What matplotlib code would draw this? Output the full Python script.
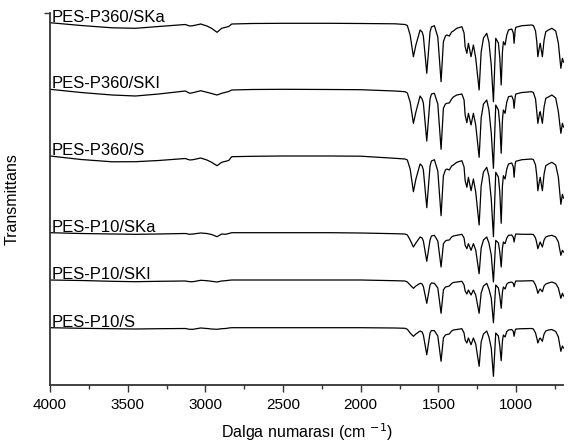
import matplotlib
matplotlib.use("Agg")
import matplotlib.pyplot as plt
from matplotlib.ticker import FixedLocator

plt.rcParams['font.family'] = ['Liberation Sans', 'DejaVu Sans']

wavenumber = [4000, 3800, 3600, 3450, 3300, 3130, 3100, 3080, 3030, 2990, 2960, 2925, 2895, 2870, 2850,
              2830, 2700, 2500, 2200, 2000, 1780, 1715, 1700, 1682, 1661, 1645, 1618, 1605, 1597, 1575,
              1554, 1545, 1526, 1504, 1483, 1468, 1455, 1446, 1430, 1415, 1404, 1382, 1349, 1335, 1328,
              1317, 1307, 1290, 1275, 1260, 1238, 1225, 1210, 1189, 1175, 1160, 1146, 1131, 1114, 1105,
              1096, 1088, 1082, 1071, 1060, 1049, 1028, 1018, 1013, 1006, 1002, 963, 900, 889, 875,
              867, 860, 850, 845, 831, 820, 809, 792, 770, 745, 728, 712, 702, 695]

labels = ["PES-P360/SKa", "PES-P360/SKI", "PES-P360/S", "PES-P10/SKa", "PES-P10/SKI", "PES-P10/S"]

p360_ska = [362.3, 359.5, 357.2, 356.7, 358.5, 360.5, 359, 359.3, 361, 359, 356.7, 352.7, 356.7, 357.7, 358.5,
            361, 361.5, 361.7, 361.7, 361.5, 361.2, 360.5, 359.5, 350, 328.3, 340, 355, 353, 349, 311.7,
            353, 358, 359.3, 348, 303.3, 343.3, 349, 350, 349, 353, 354, 356.7, 358.3, 352, 338.3,
            331.7, 341.7, 328.3, 340, 327, 295, 333, 347, 351.7, 343, 320, 283.3, 346.7, 342, 327,
            300, 333, 343.3, 340, 350, 355, 356, 352, 341.7, 355, 357.7, 359.3, 360, 359.5, 354,
            343.3, 328.3, 338, 341.7, 328.3, 345, 353.3, 355, 356.7, 354, 341.7, 316.7, 326.7, 323]

p360_ski = [295.7, 292.5, 290, 289, 291, 294, 291.7, 292.3, 294.3, 292.7, 291.5, 290, 291.7, 292.7, 293.5,
            295, 295.5, 295.7, 295.5, 295.3, 294, 293.3, 292, 283, 261.7, 273, 289, 286, 282, 244,
            286, 291, 291.7, 281, 235.7, 276.7, 281, 281.7, 282, 286, 288, 290, 291, 285, 270,
            262.3, 271.7, 260, 271.7, 260, 227.7, 267, 281, 285, 275, 252, 216.7, 280, 275, 260,
            231.7, 265, 275, 271.7, 283, 288.3, 289, 285, 276.7, 288, 291, 292.5, 293.3, 292.5, 286,
            273.3, 261.7, 271, 273.3, 261.7, 278, 286.7, 288, 290, 287, 273.3, 251.7, 261.7, 258]

p360_s = [229, 225.5, 223.2, 223.3, 224.5, 226.5, 225, 225.3, 227, 225, 222.7, 219.3, 222.7, 223.7, 224.5,
          228.3, 228.7, 229, 229, 228.8, 226.7, 226, 225, 216, 193.3, 206, 221, 219, 215, 177.3,
          219, 224, 225.3, 214, 169.3, 209.3, 215, 216, 215, 219, 220, 222.7, 224.3, 218, 204.3,
          197.7, 207.7, 194.3, 206, 193, 160, 199, 213, 217.7, 209, 186, 148.3, 212.7, 208, 193,
          161.7, 199, 209.3, 206, 216, 221, 222, 218, 207.7, 221, 223.7, 225.3, 226, 225.5, 220,
          209.3, 194.3, 204, 207.7, 194.3, 211, 219.3, 221, 222.7, 220, 207.7, 180.7, 190.7, 187]

p10_ska = [152.3, 151.5, 151, 150.7, 151, 151.5, 150.7, 151, 152, 151.5, 150.5, 148.3, 151, 150.7, 151.5,
           152.3, 152.3, 152.3, 152.3, 152, 151.3, 151, 150, 145, 138, 142, 148, 147, 144, 123.7,
           145, 149, 149.7, 144, 118, 141.3, 144, 144.7, 145, 148, 149, 149.7, 150.7, 147, 139.7,
           136.3, 141.3, 134.7, 141.3, 135, 111.3, 137, 145, 148, 142, 130, 103, 144.7, 142, 133,
           118, 137, 143, 141.3, 147, 149.7, 150, 147.5, 143, 149, 151, 150.7, 150.7, 150.5, 147,
           142, 136.3, 141, 143, 138, 145, 148, 149, 149.7, 148, 143, 129.7, 134.7, 133]

p10_ski = [105, 104.5, 103.7, 103.3, 103.7, 104, 103.3, 103.3, 104.7, 104.3, 103.7, 103, 104, 104.3, 104.7,
           105, 105, 105, 105, 105, 104.3, 104, 103, 100, 96.7, 99, 101.7, 101, 98.5, 81.7,
           100, 102, 101.7, 97, 71.7, 95, 98, 98.3, 99, 101.5, 102.5, 103, 103.7, 100, 94,
           91, 95, 90, 95, 90, 71.7, 92, 99, 101.7, 96, 87, 62.3, 100, 97, 89,
           76.7, 93, 98, 96, 101, 102.3, 103, 101.5, 98.3, 102.5, 104, 104, 104.3, 104, 100,
           96, 91.7, 95, 96, 93.3, 99, 101, 102, 103, 101.5, 97, 86.7, 91.7, 89]

p10_s = [57.3, 56.7, 56.3, 56, 56.3, 56.5, 55.7, 55.7, 57, 56.5, 56, 55.7, 56.3, 56.5, 57,
         57.3, 57.3, 57.3, 57.3, 57.3, 57, 56.7, 55.7, 52, 48.7, 51, 54, 53, 50, 30.3,
         52, 54.5, 54.3, 49, 23.7, 47, 50, 50.5, 51, 54, 55, 55.5, 56.3, 52, 45,
         42, 47, 40.3, 47, 41, 18.7, 43, 51, 54, 48, 37, 8.7, 52, 49, 39,
         24.3, 44, 50, 48, 53.5, 55, 55.5, 53.5, 48.7, 54.5, 56, 56.3, 56.5, 56, 52,
         47, 42, 46, 47, 43.7, 51, 54, 55, 55.5, 53.5, 48, 33.7, 39, 37]

series = [p360_ska, p360_ski, p360_s, p10_ska, p10_ski, p10_s]

fig = plt.figure(figsize=(5.7, 4.48), dpi=100)
ax = fig.add_axes([50 / 570, 63 / 448, 513.5 / 570, 372 / 448])

for name, vals in zip(labels, series):
    ax.plot(wavenumber, vals, color='black', lw=0.9)
    ax.text(3988, vals[0] + 1.0, name, fontsize=12, ha='left', va='baseline', color='black')

ax.set_xlim(4000, 695)
ax.set_ylim(0, 372)

for s in ['top', 'right']:
    ax.spines[s].set_visible(False)
for s in ['left', 'bottom']:
    ax.spines[s].set_color('#333333')
    ax.spines[s].set_linewidth(1.3)

ax.xaxis.set_major_locator(FixedLocator([4000, 3500, 3000, 2500, 2000, 1500, 1000]))
ax.xaxis.set_minor_locator(FixedLocator([3750, 3250, 2750, 2250, 1750, 1250, 750]))
ax.tick_params(axis='x', which='major', direction='out', length=5, width=1, colors='#333333',
               labelsize=11, labelcolor='black', pad=4)
ax.tick_params(axis='x', which='minor', direction='out', length=3, width=1, colors='#333333')
ax.set_yticks([372])
ax.set_yticklabels([])
ax.tick_params(axis='y', direction='out', length=4, width=1, colors='#333333')

ax.set_xlabel('Dalga numarası (cm $^{-1}$)', fontsize=11.5, labelpad=7)
ax.set_ylabel('Transmittans', fontsize=11.5)
ax.yaxis.set_label_coords(-0.06, 0.5)

fig.savefig('out.png', dpi=100)
